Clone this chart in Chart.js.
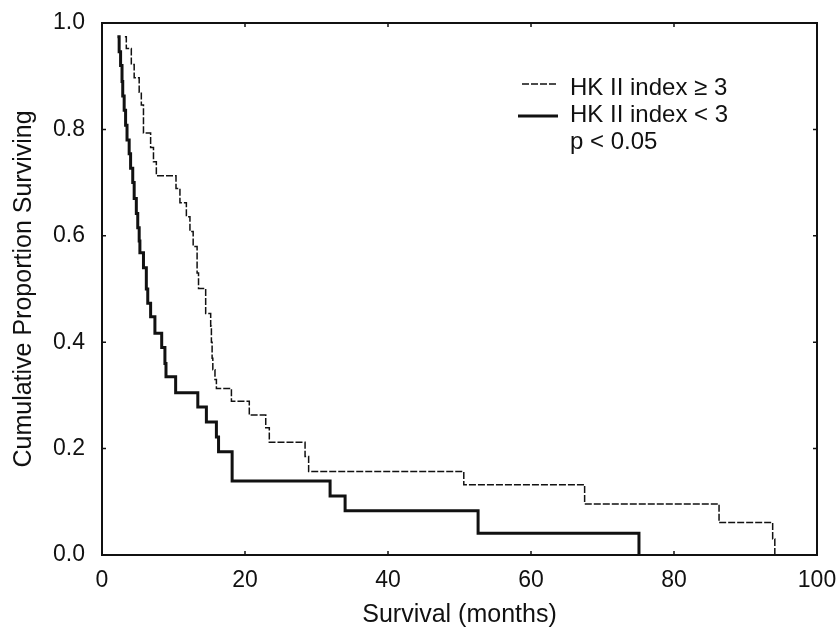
<!DOCTYPE html>
<html>
<head>
<meta charset="utf-8">
<script src="https://cdn.jsdelivr.net/npm/chart.js@4"></script>
<style>
  body { margin: 0; background: #fff; }
  #wrap { width: 838px; height: 634px; }
</style>
</head>
<body>
<div id="wrap"><canvas id="chart-component" width="838" height="634"></canvas></div>
<script>
// HK II index >= 3 (dashed)
const hiTimes = [3.2, 3.4, 4.1, 4.5, 5.2, 5.5, 5.8, 6.8, 7.2, 7.6, 10.35, 10.9, 11.8, 12.3, 12.75, 13.3, 13.5, 14.5,
  15.2, 15.3, 15.4, 15.5, 15.8, 16.0, 18.1, 20.6, 22.9, 23.4, 23.7, 28.4, 28.9, 50.6, 67.5, 86.3, 93.8, 94.1];
const hiSurv = [0.974, 0.952, 0.922, 0.897, 0.870, 0.846, 0.793, 0.766, 0.739, 0.713, 0.689, 0.662, 0.636, 0.608, 0.580, 0.53, 0.501, 0.454,
  0.43, 0.40, 0.37, 0.348, 0.33, 0.313, 0.289, 0.263, 0.239, 0.212, 0.212, 0.185, 0.157, 0.132, 0.096, 0.061, 0.03, 0];

// HK II index < 3 (solid)
const loTimes = [2.15, 2.4, 2.6, 2.8, 2.9, 3.1, 3.3, 3.5, 3.8, 4.0, 4.3, 4.5, 4.8, 5.0, 5.2, 5.3, 5.8, 6.2, 6.4, 6.8,
  7.4, 8.35, 8.8, 8.95, 10.3, 13.4, 14.6, 16.0, 16.3, 18.2, 31.9, 34.0, 52.6, 75.1];
const loSurv = [0.974, 0.946, 0.92, 0.89, 0.863, 0.836, 0.808, 0.78, 0.754, 0.727, 0.70, 0.67, 0.642, 0.615, 0.59, 0.568, 0.54, 0.50, 0.473, 0.448,
  0.417, 0.39, 0.36, 0.335, 0.305, 0.278, 0.25, 0.222, 0.194, 0.139, 0.111, 0.083, 0.041, 0];

const seriesLabels = ['HK II index \u2265 3', 'HK II index < 3'];
const pText = 'p < 0.05';
const xTicks = [0, 20, 40, 60, 80, 100];
const yTicks = [0, 0.2, 0.4, 0.6, 0.8, 1.0];

const FONT = '"Liberation Sans", Arial, Helvetica, sans-serif';
const INK = '#111';

// frame, inward ticks and legend text
const framePlugin = {
  id: 'frame',
  afterDraw(chart) {
    const { ctx, chartArea: a, scales } = chart;
    ctx.save();
    ctx.strokeStyle = INK;
    ctx.lineWidth = 2;
    ctx.strokeRect(a.left, a.top, a.right - a.left, a.bottom - a.top);
    ctx.lineWidth = 1.5;
    ctx.beginPath();
    xTicks.forEach(v => {
      const px = scales.x.getPixelForValue(v);
      ctx.moveTo(px, a.bottom); ctx.lineTo(px, a.bottom - 4);
      ctx.moveTo(px, a.top); ctx.lineTo(px, a.top + 4);
    });
    yTicks.forEach(v => {
      const py = scales.y.getPixelForValue(v);
      ctx.moveTo(a.left, py); ctx.lineTo(a.left + 4, py);
      ctx.moveTo(a.right, py); ctx.lineTo(a.right - 4, py);
    });
    ctx.stroke();

    // legend
    ctx.font = '24px ' + FONT;
    ctx.fillStyle = INK;
    ctx.textBaseline = 'middle';
    ctx.lineWidth = 1.5;
    ctx.setLineDash([7, 2]);
    ctx.beginPath(); ctx.moveTo(522, 84); ctx.lineTo(558, 84); ctx.stroke();
    ctx.setLineDash([]);
    ctx.lineWidth = 3;
    ctx.beginPath(); ctx.moveTo(518, 116); ctx.lineTo(558, 116); ctx.stroke();
    ctx.fillText(seriesLabels[0], 570, 88);
    ctx.fillText(seriesLabels[1], 570, 115);
    ctx.fillText(pText, 570, 142);
    ctx.restore();
  }
};

const ctx = document.getElementById('chart-component').getContext('2d');
new Chart(ctx, {
  type: 'line',
  data: {
    datasets: [
      {
        label: seriesLabels[0],
        data: hiTimes.map((t, i) => ({ x: t, y: hiSurv[i] })),
        borderColor: INK,
        borderWidth: 1.5,
        borderDash: [7, 2],
        stepped: 'before',
        pointRadius: 0,
        fill: false
      },
      {
        label: seriesLabels[1],
        data: loTimes.map((t, i) => ({ x: t, y: loSurv[i] })),
        borderColor: INK,
        borderWidth: 3,
        stepped: 'before',
        pointRadius: 0,
        fill: false
      }
    ]
  },
  options: {
    responsive: false,
    animation: false,
    layout: { padding: { top: 23, right: 21, left: 0, bottom: 0 } },
    plugins: { legend: { display: false }, tooltip: { enabled: false } },
    scales: {
      x: {
        type: 'linear',
        min: 0, max: 100,
        afterBuildTicks: s => { s.ticks = xTicks.map(v => ({ value: v })); },
        afterFit: s => { s.height = 79; s.paddingLeft = 0; s.paddingRight = 0; },
        grid: { display: false },
        border: { display: false },
        ticks: { color: INK, font: { family: FONT, size: 23 }, padding: 4, maxRotation: 0 },
        title: { display: true, text: 'Survival (months)', color: INK, font: { family: FONT, size: 25 }, padding: { top: 2, bottom: 4 } }
      },
      y: {
        min: 0, max: 1,
        afterBuildTicks: s => { s.ticks = yTicks.map(v => ({ value: v })); },
        afterFit: s => { s.width = 102; s.paddingTop = 0; s.paddingBottom = 0; },
        grid: { display: false },
        border: { display: false },
        ticks: { color: INK, font: { family: FONT, size: 23 }, padding: 9, callback: v => v.toFixed(1) },
        title: { display: true, text: 'Cumulative Proportion Surviving', color: INK, font: { family: FONT, size: 25 }, padding: { top: 9, bottom: 2 } }
      }
    }
  },
  plugins: [framePlugin]
});
</script>
</body>
</html>
